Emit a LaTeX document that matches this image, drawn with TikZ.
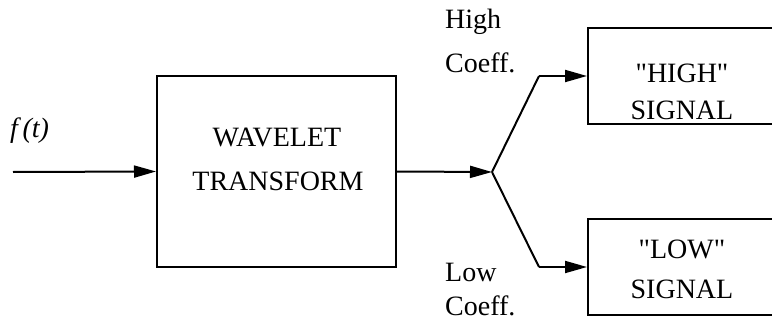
\documentclass[tikz,border=0pt]{standalone}
\usepackage{fontspec}
\setmainfont{Liberation Serif}
\usetikzlibrary{arrows.meta}
\tikzset{
  x=1pt, y=-1pt,
  blk/.style={draw, line width=2pt, rectangle, inner sep=0pt},
  lbl/.style={anchor=base, inner sep=0pt, font=\fontsize{28}{30}\selectfont},
  conn/.style={line width=2pt, -{Triangle[length=22pt,width=12pt]}},
  plain/.style={line width=2pt}
}
\begin{document}
\begin{tikzpicture}
\useasboundingbox (0,0) rectangle (772,324);
% blocks
\node[blk, minimum width=239pt, minimum height=191pt] (wt) at (276.5,171.5) {};
\node[blk, minimum width=212pt, minimum height=96pt] (hi) at (694,76) {};
\node[blk, minimum width=212pt, minimum height=96pt] (lo) at (694,267) {};
% texts
\node[lbl] (t1) at (277,146) {WAVELET};
\node[lbl] (t2) at (278,190) {TRANSFORM};
\node[lbl] (t3) at (682,82) {\textquotedbl HIGH\textquotedbl};
\node[lbl] (t4) at (682,119) {SIGNAL};
\node[lbl] (t5) at (682,258) {\textquotedbl LOW\textquotedbl};
\node[lbl] (t6) at (682,298) {SIGNAL};
\node[lbl, anchor=base west] (t7) at (445,28) {High};
\node[lbl, anchor=base west] (t8) at (445,72) {Coeff.};
\node[lbl, anchor=base west] (t9) at (445,281) {Low};
\node[lbl, anchor=base west] (t10) at (445,315) {Coeff.};
\node[lbl, anchor=base west] (ft) at (10,137) {\itshape f\,(t)};
% connectors
\coordinate (in) at (13,172);
\coordinate (br) at (492,172);
\coordinate (hb) at (539,76);
\coordinate (lb) at (539,267);
\draw[conn] (in) -- (wt.west);
\draw[conn] (wt.east) -- (br);
\draw[plain] (br) -- (hb);
\draw[conn] (hb) -- (hi.west);
\draw[plain] (br) -- (lb);
\draw[conn] (lb) -- (lo.west);
\end{tikzpicture}
\end{document}
